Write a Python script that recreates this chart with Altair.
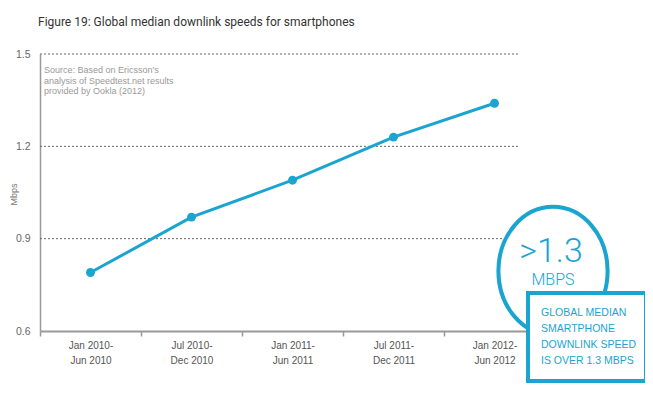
import altair as alt
import pandas as pd

# ---- data ----
periods = ["Jan 2010-\nJun 2010", "Jul 2010-\nDec 2010", "Jan 2011-\nJun 2011",
           "Jul 2011-\nDec 2011", "Jan 2012-\nJun 2012"]
speeds = [0.79, 0.97, 1.09, 1.23, 1.34]
y_ticks = [0.6, 0.9, 1.2, 1.5]
grid_values = [0.9, 1.2, 1.5]
source_lines = ["Source: Based on Ericsson's", "analysis of Speedtest.net results",
                "provided by Ookla (2012)"]
big_value = ">1.3"
big_unit = "MBPS"
box_lines = ["GLOBAL MEDIAN", "SMARTPHONE", "DOWNLINK SPEED", "IS OVER 1.3 MBPS"]
title_text = "Figure 19: Global median downlink speeds for smartphones"

BLUE = "#1aa5d0"
df = pd.DataFrame({"period": periods, "speed": speeds})
grid_df = pd.DataFrame({"speed": grid_values})
one = pd.DataFrame({"a": [0]})

x_enc = alt.X("period:N", sort=periods, bandPosition=0.5,
              scale=alt.Scale(type="band", paddingInner=0, paddingOuter=0),
              axis=alt.Axis(title=None,
                            labelExpr="isValid(datum.value) ? split(datum.value, '\\n') : ''",
                            labelAngle=0, labelFontSize=10, labelColor="#555",
                            labelLineHeight=15, labelPadding=4, tickBand="extent",
                            tickSize=5, tickColor="#999", tickWidth=1.5,
                            domainColor="#999", domainWidth=2, grid=False,
                            labelFont="Liberation Sans"))
y_enc = alt.Y("speed:Q", scale=alt.Scale(domain=[0.6, 1.5], nice=False, zero=False),
              axis=alt.Axis(title="Mbps", values=y_ticks, format=".1f", ticks=False,
                            grid=False, domainColor="#999", domainWidth=1.5,
                            labelFontSize=10.5, labelColor="#666", labelPadding=10,
                            labelFont="Liberation Sans",
                            titleFontSize=9, titleColor="#777", titleFontWeight="normal",
                            titleFont="Liberation Sans", titleX=-27, titleY=140,
                            titleAngle=270, titleAlign="center", titleBaseline="middle"))

grid = alt.Chart(grid_df).mark_rule(color="#666", strokeDash=[2, 2], strokeWidth=1).encode(
    y=y_enc, x=alt.value(0), x2=alt.value(478))

line = alt.Chart(df).mark_line(color=BLUE, strokeWidth=3).encode(x=x_enc, y=y_enc)
pts = alt.Chart(df).mark_point(filled=True, color=BLUE, size=80, opacity=1).encode(
    x=x_enc, y=y_enc)

source = alt.Chart(one).mark_text(align="left", baseline="middle", fontSize=9,
                                  color="#999", lineHeight=10.5,
                                  font="Liberation Sans").encode(
    x=alt.value(4), y=alt.value(16), text=alt.value(source_lines))

ellipse_path = "M -0.85 0 A 0.85 1 0 1 0 0.85 0 A 0.85 1 0 1 0 -0.85 0 Z"
ellipse = alt.Chart(one).mark_point(shape=ellipse_path, size=16500, filled=False,
                                    fill="white", fillOpacity=1, stroke=BLUE,
                                    strokeWidth=4, opacity=1).encode(
    x=alt.value(513), y=alt.value(217))

big = alt.Chart(one).mark_text(align="center", baseline="middle", fontSize=34,
                               fontWeight=300, font="Roboto", color=BLUE).encode(
    x=alt.value(511), y=alt.value(198), text=alt.value(big_value))
unit = alt.Chart(one).mark_text(align="center", baseline="middle", fontSize=16,
                                fontWeight=300, font="Roboto", color=BLUE).encode(
    x=alt.value(513), y=alt.value(226), text=alt.value(big_unit))

box = alt.Chart(one).mark_rect(fill="white", stroke=BLUE, strokeWidth=4).encode(
    x=alt.value(488), x2=alt.value(606), y=alt.value(239), y2=alt.value(327))
box_text = alt.Chart(one).mark_text(align="left", baseline="middle", fontSize=10.5,
                                    lineHeight=16, color=BLUE,
                                    font="Liberation Sans").encode(
    x=alt.value(501), y=alt.value(259), text=alt.value(box_lines))

chart = alt.layer(grid, line, pts, source, ellipse, big, unit, box, box_text).properties(
    width=505, height=277,
    padding={"left": 32, "top": 46, "right": 100, "bottom": 59},
    autosize=alt.AutoSizeParams(type="none"),
    background="white",
    title=alt.TitleParams(title_text, anchor="start", frame="group", fontSize=12,
                          fontWeight="normal", color="#333", font="Roboto", offset=20,
                          dx=-2),
).configure_view(stroke=None)

chart.save("out.html", embed_options={"renderer": "svg", "actions": False})
